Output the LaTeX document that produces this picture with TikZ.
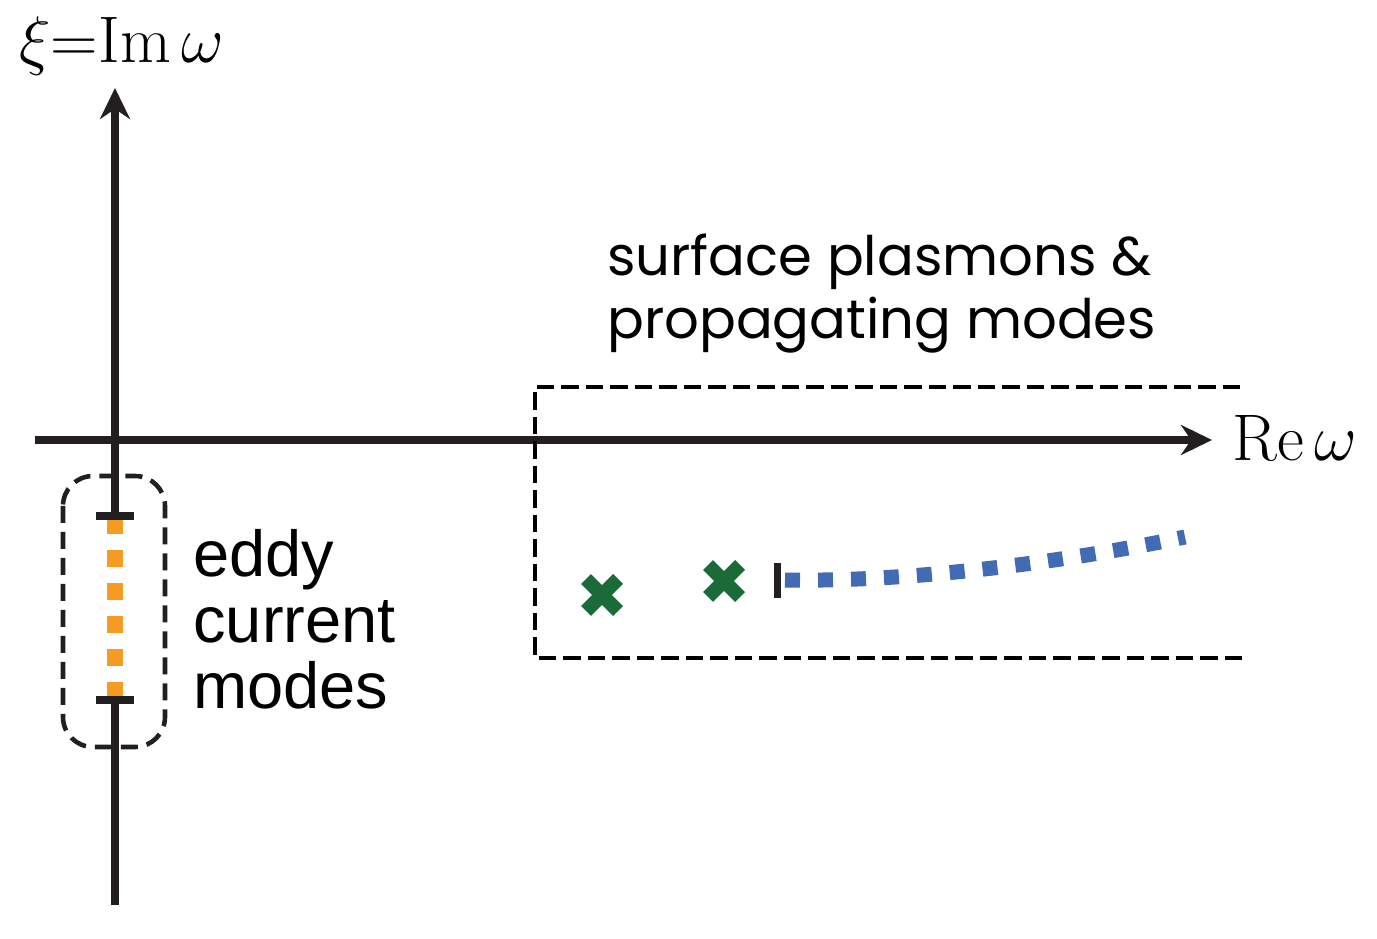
\RequirePackage{fix-cm}
\documentclass[tikz,border=0pt]{standalone}
\usepackage{amsmath}
\usepackage{fontspec}
\setsansfont{Liberation Sans}
\newfontfamily\roundsans{Poppins}
\usetikzlibrary{positioning, calc, arrows.meta}
\definecolor{axis_black}{RGB}{35, 31, 32}
\definecolor{eddy_orange}{RGB}{245, 154, 35}
\definecolor{plasmon_blue}{RGB}{67, 106, 181}
\definecolor{pole_green}{RGB}{26, 107, 56}

\begin{document}
\begin{tikzpicture}[
    x=0.02cm, y=-0.02cm,
    >={Stealth[length=0.62cm, width=0.6cm]},
    % axes and ticks
    axis/.style={axis_black, line width=4pt},
    tickbar/.style={axis_black, line width=5pt},
    % dotted branches
    eddy_dots/.style={eddy_orange, line width=0.34cm, dash pattern=on 0.34cm off 0.32cm},
    plasmon_dots/.style={plasmon_blue, line width=0.3cm, dash pattern=on 0.3cm off 0.36cm},
    % enclosing regions
    region/.style={black, line width=2.4pt, dash pattern=on 0.35cm off 0.14cm},
    capsule/.style={axis_black, line width=2.6pt, dash pattern=on 0.34cm off 0.18cm, rounded corners=0.6cm},
    pole/.style={pole_green, line width=0.28cm},
    axis_label/.style={font=\fontsize{37.5}{40}\selectfont, inner sep=0pt},
    mode_label/.style={font=\sffamily\fontsize{37}{37.5}\selectfont, align=left, inner sep=0pt}
]
    \useasboundingbox (0,0) rectangle (1377,939);

    % ==========================================
    % 1. AXES
    % ==========================================
    \coordinate (origin) at (115,440);
    \coordinate (im_bottom) at (115,905);
    \coordinate (im_top) at (115,88);
    \coordinate (re_left) at (35,440);
    \coordinate (re_right) at (1212,440);
    \coordinate (eddy_top) at (115,516);
    \coordinate (eddy_bottom) at (115,700);

    \draw [axis, ->] (re_left) -- (re_right);
    \draw [axis] (im_bottom) -- (eddy_bottom);
    \draw [axis, ->] (eddy_top) -- (im_top);

    \node (im_label) [axis_label, anchor=base] at (122,63) {$\xi{=}\mathrm{Im}\,\omega$};
    \node (re_label) [axis_label, anchor=base west] at (1232,460) {$\mathrm{Re}\,\omega$};

    % ==========================================
    % 2. EDDY CURRENT MODES
    % ==========================================
    \draw [eddy_dots] (115,517) -- (115,697);
    \draw [tickbar] ($(eddy_top)+(-19,0)$) -- ($(eddy_top)+(19,0)$);
    \draw [tickbar] ($(eddy_bottom)+(-19,0)$) -- ($(eddy_bottom)+(19,0)$);
    \draw [capsule] (63,476) rectangle (165,747);

    % base anchor sits on the last line
    \node (eddy_text) [mode_label, anchor=base west] at (193,708) {eddy\\current\\modes};

    % ==========================================
    % 3. SURFACE PLASMONS & PROPAGATING MODES
    % ==========================================
    \draw [region] (1240,387) -- (535,387) -- (535,658) -- (1246,658);

    \node (sp_text) [font=\roundsans\fontsize{31}{35.7}\selectfont, align=left, inner sep=0pt, anchor=base west] at (607,338)
        {surface plasmons \&\\propagating modes};

    % poles
    \coordinate (pole_a) at (602,595);
    \coordinate (pole_b) at (724,581);
    \foreach \p in {pole_a, pole_b} {
        \draw [pole] ($(\p)+(-16,-16)$) -- ($(\p)+(16,16)$);
        \draw [pole] ($(\p)+(-16,16)$) -- ($(\p)+(16,-16)$);
    }

    % branch cut start and continuum
    \coordinate (branch_start) at (777,580);
    \draw [axis_black, line width=0.14cm] ($(branch_start)+(0,-17)$) -- ($(branch_start)+(0,18)$);
    \draw [plasmon_dots] (785,580) .. controls (900,582) and (1050,565) .. (1185,537);

\end{tikzpicture}
\end{document}
